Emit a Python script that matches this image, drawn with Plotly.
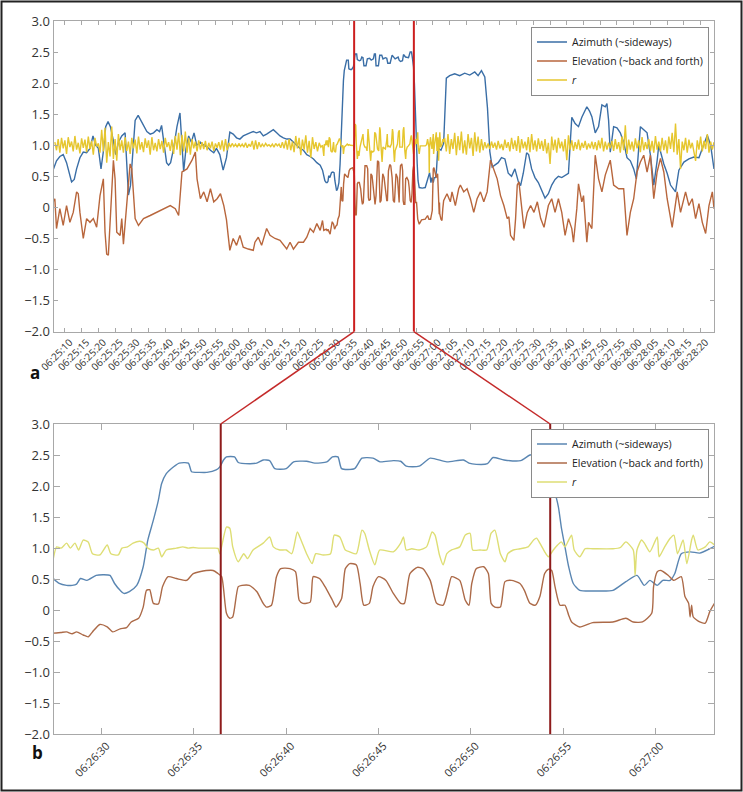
import numpy as np
import pandas as pd
import plotly.graph_objects as go

BASE = pd.Timestamp("2020-01-01 06:25:00")

# ---------------- data (seconds after 06:25:00) ----------------
# Overview panel (a) - parts outside the zoomed window
top_az_pre_t = [6.6, 7.5, 8.5, 9.5, 10.5, 11.5, 12.0, 12.8, 13.5, 14.5, 15.5, 16.5, 17.5, 18.4, 19.2, 20.0,
                20.8, 21.5, 22.2, 22.9, 23.6, 24.4, 25.2, 26.0, 27.0, 28.0, 28.5, 29.0, 29.6, 30.3, 31.0,
                31.9, 32.7, 33.5, 34.5, 35.5, 36.5, 37.5, 38.3, 38.9, 39.6, 40.4, 41.0, 41.6, 42.5, 43.5,
                44.4, 45.0, 45.5, 46.2, 47.0, 47.8, 48.6, 49.4, 50.5, 51.5, 52.5, 53.5, 54.5, 55.3, 56.3,
                57.3, 58.3, 59.3, 60.3, 61.3, 62.3, 63.3, 64.3, 65.3, 66.3, 67.3, 68.3, 69.3, 70.3, 71.3,
                72.3, 73.3, 74.3, 75.3, 76.3, 77.3, 78.3, 79.3, 80.3, 81.3, 82.3, 83.3, 84.3, 85.3, 86.3, 87.0]
top_az_pre_v = [0.62, 0.75, 0.82, 0.85, 0.72, 0.48, 0.41, 0.45, 0.62, 0.80, 0.89, 0.88, 0.95, 1.15, 1.00, 0.95,
                0.62, 0.90, 1.30, 1.38, 1.30, 1.10, 0.85, 1.05, 1.15, 1.20, 0.60, 0.20, 0.35, 0.95, 1.40,
                1.48, 1.40, 1.30, 1.22, 1.18, 1.20, 1.25, 1.22, 1.32, 1.00, 0.72, 0.68, 0.72, 0.95, 1.30,
                1.52, 1.00, 0.58, 0.95, 1.15, 1.05, 1.20, 1.00, 1.05, 1.00, 0.98, 0.92, 0.88, 0.95, 0.85,
                0.60, 0.80, 1.21, 1.18, 1.12, 1.10, 1.15, 1.18, 1.20, 1.22, 1.20, 1.22, 1.15, 1.18, 1.22,
                1.25, 1.20, 1.15, 1.12, 1.10, 1.10, 1.05, 1.00, 0.95, 0.92, 0.85, 0.82, 0.78, 0.72, 0.68, 0.60]
top_az_post_t = [124.0, 125.0, 126.5, 128.0, 129.5, 131.0, 132.5, 133.5, 134.5, 135.5, 136.3, 137.0, 137.7,
                 138.5, 139.5, 140.5, 141.5, 142.5, 143.5, 144.5, 145.5, 146.2, 147.0, 148.0, 148.6, 149.5,
                 150.5, 151.5, 152.5, 153.5, 154.5, 155.5, 156.5, 157.5, 158.5, 159.5, 160.5, 161.0, 161.5,
                 162.5, 163.5, 164.5, 165.5, 166.0, 166.8, 167.5, 168.5, 169.5, 170.5, 171.5, 172.0, 172.5,
                 173.0, 174.0, 175.0, 176.0, 177.0, 178.0, 179.0, 180.0, 180.8, 181.5, 182.0, 183.0, 184.0,
                 185.0, 186.0, 187.0, 187.5, 188.5, 189.0, 190.0, 191.0, 192.5, 193.5, 195.0, 196.5, 198.0,
                 199.5, 200.5, 202.0, 203.0, 204.0]
top_az_post_v = [2.08, 2.12, 2.15, 2.12, 2.16, 2.13, 2.18, 2.12, 2.20, 2.10, 1.60, 0.90, 0.65,
                 0.68, 0.72, 0.80, 0.78, 0.55, 0.50, 0.62, 0.42, 0.35, 0.55, 0.88, 0.85, 0.62,
                 0.48, 0.40, 0.28, 0.15, 0.22, 0.36, 0.45, 0.50, 0.48, 0.52, 0.55, 1.00, 1.45,
                 1.35, 1.30, 1.45, 1.55, 1.62, 1.55, 1.46, 1.20, 1.30, 1.65, 1.62, 1.67, 1.40,
                 0.89, 1.30, 1.28, 1.20, 1.05, 0.80, 0.75, 0.62, 0.46, 0.90, 1.30, 1.25, 1.20,
                 0.84, 0.36, 0.75, 1.00, 0.80, 0.70, 0.55, 0.36, 0.25, 0.60, 0.73, 0.78, 0.81,
                 0.80, 0.95, 1.16, 1.00, 0.62]

top_el_pre_t = [6.6, 7.0, 7.5, 8.5, 9.5, 10.5, 11.5, 12.5, 13.5, 14.0, 14.5, 15.5, 16.5, 17.5, 18.5, 19.5,
                20.5, 21.5, 22.0, 22.5, 23.0, 23.5, 24.0, 24.5, 25.0, 25.5, 26.5, 27.0, 27.5, 28.5, 29.5,
                30.0, 30.5, 31.0, 32.0, 33.5, 35.5, 37.5, 39.5, 41.5, 43.0, 44.0, 45.0, 46.5, 48.0, 49.0,
                49.5, 50.5, 51.5, 52.5, 53.5, 54.5, 55.5, 56.5, 57.5, 58.3, 58.8, 59.3, 60.3, 61.3, 62.3,
                63.3, 64.8, 66.3, 66.8, 67.8, 68.8, 69.8, 70.3, 71.3, 72.8, 74.3, 75.3, 76.3, 77.3, 78.3,
                79.8, 81.3, 82.3, 83.3, 84.3, 85.3, 86.3, 87.0]
top_el_pre_v = [0.10, 0.14, -0.34, -0.02, -0.29, 0.03, -0.24, -0.08, 0.25, 0.22, -0.08, -0.50, -0.18, -0.24,
                -0.18, -0.32, 0.19, 0.46, -0.40, -0.75, -0.77, -0.30, 0.30, 0.76, 0.46, -0.40, -0.45, -0.18,
                -0.59, 0.03, 0.70, 0.62, 0.19, -0.18, -0.29, -0.18, -0.13, -0.08, -0.02, 0.03, -0.02, -0.13,
                0.57, 0.62, 0.76, 0.89, 0.46, 0.14, 0.25, 0.09, 0.30, 0.09, 0.14, 0.22, 0.03, -0.20, -0.45,
                -0.69, -0.50, -0.61, -0.45, -0.64, -0.67, -0.69, -0.56, -0.48, -0.61, -0.45, -0.34, -0.45,
                -0.50, -0.53, -0.61, -0.67, -0.56, -0.67, -0.56, -0.56, -0.48, -0.34, -0.40, -0.26, -0.37, -0.21]
top_el_post_t = [124.2, 125.2, 125.7, 126.7, 127.7, 128.2, 129.2, 130.2, 131.2, 132.2, 133.2, 134.2, 135.2,
                 136.2, 137.2, 138.2, 139.2, 140.2, 141.2, 142.2, 142.7, 143.2, 144.2, 144.7, 145.2, 145.7,
                 146.2, 147.2, 148.2, 149.2, 150.2, 151.2, 152.2, 153.2, 154.5, 155.5, 156.5, 157.5, 158.5,
                 159.5, 160.5, 161.5, 162.0, 163.0, 163.5, 164.5, 165.0, 166.0, 166.5, 167.5, 168.5, 169.5,
                 170.5, 171.5, 173.0, 174.0, 175.5, 177.0, 178.0, 179.0, 180.0, 181.0, 182.0, 183.0, 184.0,
                 185.0, 186.0, 187.0, 188.0, 189.0, 190.0, 191.5, 193.0, 194.0, 195.5, 196.5, 197.5, 198.5,
                 199.5, 200.5, 201.5, 202.5, 203.5, 204.0]
top_el_post_v = [0.22, 0.09, 0.25, 0.03, 0.30, 0.36, 0.25, 0.30, 0.14, -0.08, 0.14, 0.25, 0.09,
                 0.25, 0.76, 0.62, 0.46, 0.19, 0.03, -0.18, -0.15, -0.45, -0.53, -0.18, 0.36, 0.41,
                 0.19, -0.34, -0.08, 0.03, -0.08, 0.09, -0.18, -0.32, 0.03, 0.14, -0.08, 0.14, -0.08,
                 -0.45, -0.18, -0.34, -0.56, -0.02, 0.38, 0.09, 0.19, -0.56, -0.24, -0.34, 0.84, 0.46,
                 0.25, 0.52, 0.76, 0.36, 0.30, 0.30, -0.45, -0.08, 0.14, 0.57, 0.73, 0.84, 0.57,
                 0.84, 0.14, 0.57, 0.79, 0.57, 0.14, -0.32, 0.25, -0.08, 0.25, 0.03, 0.14, -0.18,
                 0.06, -0.24, -0.42, 0.03, 0.25, -0.02]

# r sampled every 0.5 s
top_r_pre_start = 7.0
top_r_pre_v = [1.05, 0.92, 1.10, 0.88, 1.12, 0.95, 1.08, 0.86, 1.13, 0.97,
               1.06, 0.90, 1.15, 0.93, 1.04, 0.87, 1.11, 0.96, 1.09, 0.89,
               1.14, 0.94, 1.07, 0.85, 1.12, 0.98, 1.03, 0.88, 1.25, 0.90,
               1.28, 0.72, 1.05, 0.82, 1.30, 0.78, 1.10, 0.75, 1.18, 0.92,
               1.08, 0.88, 1.13, 0.91, 1.06, 0.86, 1.12, 0.95, 1.09, 0.87,
               1.14, 0.93, 1.05, 0.89, 1.11, 0.96, 1.08, 0.85, 1.13, 0.92,
               1.04, 0.90, 1.10, 0.94, 1.07, 0.88, 1.12, 0.97, 1.05, 0.91,
               1.09, 0.86, 1.15, 0.93, 1.20, 0.84, 1.17, 0.90, 1.22, 0.88,
               1.12, 0.85, 1.10, 0.95, 1.06, 0.90, 1.08, 0.93, 1.05, 0.94,
               1.07, 0.92, 1.04, 0.95, 1.06, 0.91, 1.03, 0.96, 1.05, 0.93,
               1.08, 0.90, 1.10, 0.92, 1.04, 0.97, 1.03, 0.98, 1.02, 0.97,
               1.03, 0.98, 1.02, 0.97, 1.04, 0.96, 1.02, 0.98, 1.07, 0.93,
               1.08, 0.94, 1.05, 0.97, 1.02, 0.98, 1.03, 0.99, 1.01, 0.98,
               1.02, 0.97, 1.03, 0.99, 1.02, 0.96, 1.05, 0.95, 1.08, 0.93,
               1.10, 0.92, 1.06, 0.89, 1.15, 0.95, 1.12, 0.84, 1.09, 0.93,
               1.16, 0.88, 1.07, 0.80, 1.13, 0.94, 1.05, 0.90, 1.04, 0.97,
               1.00]
top_r_post_start = 123.5
top_r_post_v = [1.12, 0.90, 1.18, 0.86, 1.10, 0.94, 1.20, 0.84, 1.15, 0.92,
                1.22, 0.87, 1.08, 0.85, 1.18, 0.95, 1.12, 0.83, 1.21, 0.90,
                1.14, 0.88, 1.10, 0.92, 1.05, 0.95, 1.03, 0.94, 1.06, 0.96,
                1.04, 0.93, 1.07, 0.95, 1.02, 0.92, 1.09, 0.96, 1.05, 0.90,
                1.12, 0.94, 1.08, 0.91, 1.15, 0.88, 1.10, 0.95, 1.06, 0.92,
                1.13, 0.89, 1.18, 0.93, 1.08, 0.90, 1.11, 0.94, 1.07, 0.91,
                1.10, 0.87, 1.04, 0.70, 1.14, 0.92, 1.09, 0.88, 1.12, 0.95,
                1.06, 0.90, 1.10, 0.76, 1.16, 0.93, 1.08, 0.91, 1.05, 0.94,
                1.09, 0.92, 1.04, 0.96, 1.07, 0.93, 1.03, 0.95, 1.06, 0.94,
                1.05, 0.92, 1.08, 0.95, 1.12, 0.90, 1.06, 0.93, 1.04, 0.95,
                1.07, 0.91, 1.10, 0.94, 1.05, 0.88, 1.14, 0.92, 1.32, 0.86,
                1.09, 0.93, 1.06, 0.90, 1.11, 0.95, 1.08, 0.89, 1.13, 0.92,
                1.05, 0.94, 1.10, 0.91, 1.07, 0.88, 1.15, 0.93, 1.06, 0.90,
                1.12, 0.92, 1.08, 0.87, 1.14, 0.94, 1.20, 0.89, 1.35, 0.85,
                1.10, 0.62, 1.06, 0.92, 1.12, 0.88, 1.09, 0.95, 1.04, 0.91,
                0.75, 1.08, 0.93, 1.14, 0.90, 1.07, 0.94, 1.18, 0.88, 1.06,
                0.93, 1.05]

# Zoomed panel (b)
zoom_az_t = [87.38, 87.7, 88.1, 88.4, 88.64, 88.85, 89.2, 89.7, 90.1, 90.45, 90.7, 91.0, 91.2, 91.5, 91.9,
             92.25, 92.5, 92.8, 93.07, 93.25, 93.5, 93.9, 94.2, 94.7, 94.87, 95.3, 95.7, 96.2, 96.4, 96.6,
             96.76, 97.2, 97.4, 98.0, 98.4, 98.75, 99.1, 99.38, 100.0, 100.4, 101.1, 101.55, 102.2, 102.5,
             102.8, 103.0, 103.7, 104.1, 104.7, 105.08, 105.8, 106.2, 106.5, 107.2, 107.8, 108.7, 109.6,
             109.9, 110.3, 110.9, 111.2, 111.8, 112.7, 113.2, 113.6, 113.9, 114.2, 114.47, 114.74, 114.9,
             115.1, 115.3, 115.55, 115.9, 116.8, 117.7, 118.4, 119.0, 119.4, 119.7, 120.1, 120.4, 120.8,
             121.05, 121.4, 121.9, 122.4, 122.95, 123.2]
zoom_az_v = [0.51, 0.43, 0.40, 0.40, 0.42, 0.51, 0.48, 0.56, 0.57, 0.56, 0.43, 0.32, 0.27, 0.30, 0.40,
             0.70, 1.13, 1.45, 1.77, 2.04, 2.20, 2.31, 2.37, 2.37, 2.23, 2.22, 2.22, 2.26, 2.31, 2.42,
             2.47, 2.47, 2.38, 2.36, 2.37, 2.42, 2.41, 2.28, 2.28, 2.39, 2.40, 2.37, 2.39, 2.47,
             2.47, 2.28, 2.28, 2.45, 2.45, 2.39, 2.41, 2.40, 2.32, 2.32, 2.45, 2.39, 2.42,
             2.37, 2.35, 2.36, 2.46, 2.42, 2.41, 2.50, 2.50, 2.39, 2.26, 1.99, 1.67, 1.34,
             1.02, 0.70, 0.43, 0.32, 0.31, 0.32, 0.46, 0.56, 0.40, 0.48, 0.40, 0.48, 0.48,
             0.59, 0.91, 0.94, 0.92, 0.99, 1.03]

zoom_el_t = [87.38, 87.8, 88.1, 88.4, 88.64, 89.0, 89.27, 89.5, 89.9, 90.3, 90.6, 91.0, 91.35, 91.6, 92.0,
             92.25, 92.43, 92.6, 92.8, 93.07, 93.3, 93.6, 94.05, 94.6, 94.96, 95.3, 96.04, 96.3, 96.5,
             96.76, 96.94, 97.1, 97.4, 97.6, 98.0, 98.4, 98.75, 98.93, 99.2, 99.47, 99.7, 100.2, 100.5,
             100.7, 100.9, 101.3, 101.46, 101.8, 102.1, 102.5, 102.7, 103.0, 103.2, 103.44, 103.8, 104.0,
             104.2, 104.5, 104.7, 105.0, 105.4, 105.8, 106.2, 106.4, 106.7, 107.1, 107.4, 107.8, 108.15,
             108.5, 108.8, 108.96, 109.4, 109.7, 109.9, 110.05, 110.3, 110.7, 110.95, 111.1, 111.3, 111.6,
             111.85, 112.2, 112.66, 112.9, 113.2, 113.5, 113.74, 114.0, 114.2, 114.38, 114.56, 114.83,
             115.1, 115.3, 115.46, 115.9, 116.6, 117.7, 118.4, 118.8, 119.3, 119.8, 119.9, 120.1, 120.3,
             120.7, 121.0, 121.4, 121.6, 121.8, 121.88, 121.96, 122.05, 122.4, 122.7, 122.95, 123.2]
zoom_el_v = [-0.37, -0.36, -0.35, -0.38, -0.35, -0.40, -0.43, -0.35, -0.23, -0.27, -0.35, -0.30, -0.28, -0.19, -0.13,
             0.05, 0.32, 0.33, 0.11, 0.10, 0.38, 0.54, 0.51, 0.48, 0.59, 0.62, 0.64, 0.59, 0.54,
             -0.05, -0.13, -0.11, 0.38, 0.40, 0.40, 0.30, 0.11, 0.05, 0.08, 0.54, 0.67, 0.67, 0.62,
             0.16, 0.11, 0.13, 0.54, 0.51, 0.38, 0.16, 0.05, 0.19, 0.67, 0.75, 0.73, 0.43,
             0.08, 0.11, 0.38, 0.54, 0.48, 0.27, 0.11, 0.11, 0.59, 0.69, 0.67, 0.48, 0.11,
             0.08, 0.38, 0.54, 0.48, 0.16, 0.08, 0.43, 0.67, 0.70, 0.59, 0.11, 0.05, 0.05,
             0.46, 0.48, 0.43, 0.32, 0.11, 0.08, 0.22, 0.59, 0.66, 0.64, 0.38, 0.08,
             0.08, -0.08, -0.19, -0.27, -0.20, -0.19, -0.13, -0.19, -0.19, -0.05, 0.38, 0.62, 0.64,
             0.56, 0.48, 0.54, 0.22, 0.11, -0.11, 0.08, -0.11, -0.19, -0.21, -0.02, 0.11]

zoom_r_t = [87.38, 87.56, 87.8, 88.1, 88.3, 88.55, 88.75, 89.0, 89.27, 89.5, 89.9, 90.3, 90.5, 90.9, 91.1,
            91.4, 91.7, 92.07, 92.3, 92.5, 92.8, 93.07, 93.25, 93.5, 94.05, 94.4, 94.7, 94.96, 95.3, 96.0,
            96.3, 96.4, 96.76, 96.94, 97.1, 97.4, 97.7, 97.9, 98.2, 98.75, 99.1, 99.3, 99.65, 100.0, 100.3,
            100.6, 100.8, 101.1, 101.4, 101.6, 102.0, 102.4, 102.6, 102.9, 103.2, 103.44, 103.8, 104.1,
            104.25, 104.5, 104.8, 105.06, 105.8, 106.2, 106.35, 106.5, 106.8, 107.2, 107.6, 107.9, 108.06,
            108.3, 108.5, 108.7, 108.96, 109.4, 109.7, 109.96, 110.1, 110.5, 110.86, 111.1, 111.3, 111.6,
            111.85, 112.0, 112.3, 112.66, 113.1, 113.4, 113.56, 113.74, 114.0, 114.2, 114.47, 114.7, 114.9,
            115.1, 115.3, 115.46, 115.6, 115.9, 116.2, 116.6, 117.7, 118.1, 118.4, 118.8, 118.9, 119.0,
            119.25, 119.4, 119.7, 120.1, 120.2, 120.5, 120.8, 121.0, 121.2, 121.5, 121.7, 121.96, 122.05,
            122.3, 122.7, 122.95, 123.2]
zoom_r_v = [0.83, 1.02, 1.00, 1.08, 1.00, 1.08, 0.97, 1.13, 1.10, 0.91, 0.89, 1.05, 0.91, 0.89, 1.00,
            1.02, 1.08, 1.11, 1.08, 1.00, 0.97, 1.00, 0.86, 0.97, 1.00, 1.02, 1.00, 1.01, 1.00, 1.00,
            0.995, 0.91, 1.34, 1.32, 1.02, 0.78, 0.91, 0.83, 0.97, 1.08, 1.18, 1.02, 0.97, 0.97, 0.91,
            1.26, 1.13, 0.91, 0.75, 0.91, 0.89, 0.91, 1.21, 1.18, 0.97, 0.94, 0.91, 1.29,
            1.24, 0.97, 0.73, 0.97, 0.94, 1.08, 1.18, 0.97, 0.99, 0.97, 1.02, 1.26, 1.21,
            0.89, 0.73, 0.91, 0.97, 1.02, 1.21, 1.24, 0.97, 0.97, 0.97, 1.24, 1.29, 0.91,
            0.78, 0.91, 0.97, 0.99, 1.02, 1.13, 1.16, 1.08, 0.94, 0.86, 0.97, 1.05, 1.10,
            1.02, 1.13, 1.21, 0.97, 0.86, 0.99, 0.99, 0.99, 1.01, 1.10, 0.97, 0.56, 0.97,
            1.13, 1.08, 0.94, 1.18, 0.86, 1.02, 1.16, 1.21, 0.91, 1.13, 0.75, 1.13, 1.21,
            0.97, 1.02, 1.10, 1.05]

zoom_window = [96.45, 114.3]       # red markers (s after 06:25:00)
top_range = [6.6, 204.0]
zoom_range = [87.39, 123.19]

series_names = ["Azimuth (~sideways)", "Elevation (~back and forth)", "<i>r</i>"]
ytick_vals = [-2.0, -1.5, -1.0, -0.5, 0.0, 0.5, 1.0, 1.5, 2.0, 2.5, 3.0]
ytick_text = ["\u22122.0", "\u22121.5", "\u22121.0", "\u22120.5", "0", "0.5", "1.0", "1.5", "2.0", "2.5", "3.0"]


def ts(secs):
    return BASE + pd.to_timedelta(np.asarray(secs, dtype=float), unit="s")


# compose overview series (zoomed section reused)
top_az_t = top_az_pre_t + zoom_az_t + top_az_post_t
top_az_v = top_az_pre_v + zoom_az_v + top_az_post_v
top_el_t = top_el_pre_t + zoom_el_t + top_el_post_t
top_el_v = top_el_pre_v + zoom_el_v + top_el_post_v
r_pre_t = list(top_r_pre_start + 0.5 * np.arange(len(top_r_pre_v)))
r_post_t = list(top_r_post_start + 0.5 * np.arange(len(top_r_post_v)))
top_r_t = r_pre_t + zoom_r_t + r_post_t
top_r_v = top_r_pre_v + zoom_r_v + top_r_post_v

top_colors = ["#3a6ea6", "#b8663c", "#e6c62e"]
bot_colors = ["#5a86b2", "#ac6a48", "#dede74"]

W, H = 743, 792
top_dom_x = [53.5 / W, 714.0 / W]
top_dom_y = [1 - 331.7 / H, 1 - 21.0 / H]
bot_dom_x = [53.5 / W, 714.3 / W]
bot_dom_y = [1 - 734.3 / H, 1 - 424.0 / H]

fig = go.Figure()
for name, t, v, c in zip(series_names,
                         [top_az_t, top_el_t, top_r_t],
                         [top_az_v, top_el_v, top_r_v], top_colors):
    fig.add_trace(go.Scatter(x=ts(t), y=v, mode="lines", name=name,
                             line=dict(color=c, width=1.4), xaxis="x", yaxis="y",
                             legend="legend"))
for name, t, v, c in zip(series_names,
                         [zoom_az_t, zoom_el_t, zoom_r_t],
                         [zoom_az_v, zoom_el_v, zoom_r_v], bot_colors):
    fig.add_trace(go.Scatter(x=ts(t), y=v, mode="lines", name=name,
                             line=dict(color=c, width=1.4, shape="spline", smoothing=0.6),
                             xaxis="x2", yaxis="y2", legend="legend2"))


def axis_style(size, ticklen):
    return dict(showline=True, linecolor="#a8a8a8", linewidth=1, mirror="ticks",
                ticks="inside", tickcolor="#a8a8a8", ticklen=ticklen, showgrid=False,
                zeroline=False, automargin=False,
                tickfont=dict(family="Open Sans", color="#333333", size=size))


fig.update_layout(
    template="none",
    width=W, height=H, margin=dict(l=0, r=0, t=0, b=0, pad=0), autosize=False,
    paper_bgcolor="white", plot_bgcolor="white",
    font=dict(family="Open Sans", color="#333333"),
    xaxis=dict(domain=top_dom_x, anchor="y", type="date",
               range=[str(ts([top_range[0]])[0]), str(ts([top_range[1]])[0])],
               tick0=str(BASE), dtick=5000, tickformat="%H:%M:%S", tickangle=-45,
               ticklabelshift=5, **axis_style(10, 4)),
    yaxis=dict(domain=top_dom_y, anchor="x", range=[-2, 3], tickvals=ytick_vals,
               ticktext=ytick_text, **axis_style(13, 4)),
    xaxis2=dict(domain=bot_dom_x, anchor="y2", type="date",
                range=[str(ts([zoom_range[0]])[0]), str(ts([zoom_range[1]])[0])],
                tick0=str(BASE), dtick=5000, tickformat="%H:%M:%S", tickangle=-45,
                ticklabelshift=5, **axis_style(11, 6)),
    yaxis2=dict(domain=bot_dom_y, anchor="x2", range=[-2, 3], tickvals=ytick_vals,
                ticktext=ytick_text, **axis_style(13, 6)),
    legend=dict(x=709 / W, xanchor="right", y=1 - 26.5 / H, yanchor="top",
                bgcolor="white", bordercolor="#8a8a8a", borderwidth=1,
                font=dict(family="Open Sans", size=10.5, color="#222222"),
                itemwidth=30, tracegroupgap=0),
    legend2=dict(x=709 / W, xanchor="right", y=1 - 428.5 / H, yanchor="top",
                 bgcolor="white", bordercolor="#8a8a8a", borderwidth=1,
                 font=dict(family="Open Sans", size=10.5, color="#222222"),
                 itemwidth=30, tracegroupgap=0),
    showlegend=True,
)


def paper_x(t, rng, dom):
    return dom[0] + (t - rng[0]) / (rng[1] - rng[0]) * (dom[1] - dom[0])


shapes = []
for t in zoom_window:
    tt = str(ts([t])[0])
    shapes.append(dict(type="line", xref="x", yref="y", x0=tt, x1=tt, y0=-2, y1=3,
                       line=dict(color="#cc1f1f", width=2)))
    shapes.append(dict(type="line", xref="x2", yref="y2", x0=tt, x1=tt, y0=-2, y1=3,
                       line=dict(color="#8e1b1b", width=2)))
    shapes.append(dict(type="line", xref="paper", yref="paper",
                       x0=paper_x(t, top_range, top_dom_x), y0=top_dom_y[0],
                       x1=paper_x(t, zoom_range, bot_dom_x), y1=bot_dom_y[1],
                       line=dict(color="#c42a2a", width=1.5)))
# outer frame
shapes.append(dict(type="rect", xref="paper", yref="paper", x0=1.5 / W, x1=1 - 1.5 / W,
                   y0=1.5 / H, y1=1 - 1.5 / H, line=dict(color="#222222", width=2)))
fig.update_layout(shapes=shapes)

fig.add_annotation(text="<b>a</b>", x=28 / W, y=1 - 372 / H, xref="paper", yref="paper",
                   showarrow=False, font=dict(family="Open Sans", size=17, color="#111111"))
fig.add_annotation(text="<b>b</b>", x=30 / W, y=1 - 766 / H, xref="paper", yref="paper",
                   showarrow=False, font=dict(family="Open Sans", size=17, color="#111111"))

fig.write_html("out.html", config={"displayModeBar": False},
               post_script="document.body.style.margin='0';document.body.style.padding='0';"
                           "document.body.style.overflow='hidden';")
